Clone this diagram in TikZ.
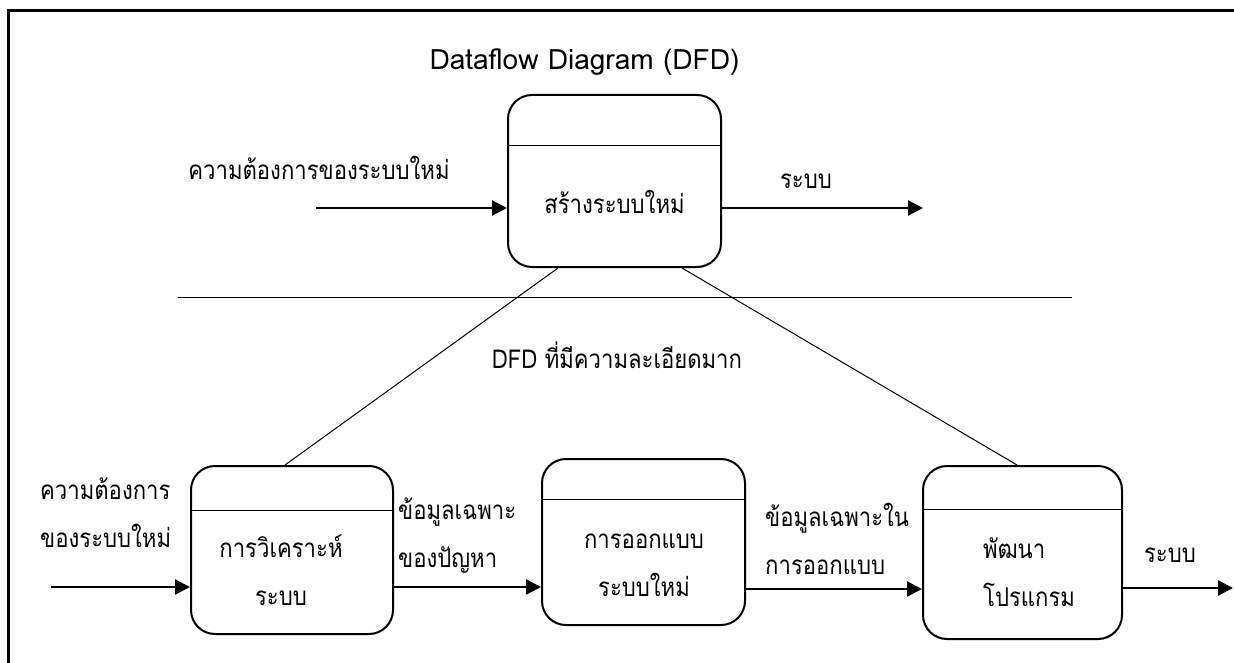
\documentclass[tikz,border=0pt]{standalone}
\usepackage{fontspec}
\newfontfamily\thaifont[Script=Thai,FakeStretch=0.85]{Loma}
\newfontfamily\latinfont{Loma}
\usetikzlibrary{arrows.meta,calc}
\begin{document}
\begin{tikzpicture}[x=1pt,y=-1pt,
  proc/.style={draw,line width=2pt,rounded corners=24pt,inner sep=0pt},
  divider/.style={line width=1pt},
  flow/.style={line width=2.2pt,-{Triangle[length=15pt,width=15pt]}},
  thin/.style={line width=1pt},
  txt/.style={font=\thaifont\fontsize{26}{48}\selectfont,inner sep=0pt},
]
\useasboundingbox (0,0) rectangle (1234,663);
\begin{scope}
\clip (0,0) rectangle (1234,663);
\draw[line width=2.5pt] (8.5,700) -- (8.5,10.5) -- (1260,10.5);
\end{scope}

% title
\node[font=\latinfont\fontsize{28}{34}\selectfont,inner sep=0pt] (title) at (584.5,62) {Dataflow Diagram (DFD)};

% context-level process
\node[proc,minimum width=213pt,minimum height=172pt] (T) at (614.5,181) {};
\draw[divider] ($(T.north west)+(0,52)$) -- ($(T.north east)+(0,52)$);
\node[txt] (Ttext) at (614.5,202) {สร้างระบบใหม่};

\coordinate (tin) at (316,208);
\coordinate (tout) at (923,208);
\draw[flow] (tin) -- (tin -| T.west);
\draw[flow] (tout -| T.east) -- (tout);
\node[txt] (lin) at (319,168) {ความต้องการของระบบใหม่};
\node[txt] (lout) at (806,181) {ระบบ};

% separator
\coordinate (h1) at (178,297);
\coordinate (h2) at (1072,297);
\draw[thin] (h1) -- (h2);
\node[txt] (detail) at (617,355) {DFD ที่มีความละเอียดมาก};

% detailed processes
\node[proc,minimum width=202pt,minimum height=168pt] (B1) at (292,550) {};
\draw[divider] ($(B1.north west)+(0,45)$) -- ($(B1.north east)+(0,45)$);
\node[txt,align=center] (B1text) at (281,570) {การวิเคราะห์\\ระบบ};

\node[proc,minimum width=203pt,minimum height=166pt] (B2) at (643.5,542) {};
\draw[divider] ($(B2.north west)+(0,41)$) -- ($(B2.north east)+(0,41)$);
\node[txt,align=center] (B2text) at (644,565) {การออกแบบ\\ระบบใหม่};

\node[proc,minimum width=199pt,minimum height=173pt] (B3) at (1022.5,552.5) {};
\draw[divider] ($(B3.north west)+(0,44)$) -- ($(B3.north east)+(0,44)$);
\node[txt,align=left,anchor=west] (B3text) at (983,572) {พัฒนา\\โปรแกรม};

% links between levels
\draw[thin] ($(T.south)+(-56.5,0)$) -- ($(B1.north)+(-7,0)$);
\draw[thin] ($(T.south)+(67.5,0)$) -- ($(B3.north)+(-5.5,0)$);

% detailed flows
\coordinate (bin) at (51,587);
\coordinate (f12) at (0,587);
\coordinate (f23) at (0,589);
\coordinate (bout) at (1233,588);
\draw[flow] (bin) -- (bin -| B1.west);
\draw[flow] (f12 -| B1.east) -- (f12 -| B2.west);
\draw[flow] (f23 -| B2.east) -- (f23 -| B3.west);
\draw[flow] (bout -| B3.east) -- (bout);

\node[txt,align=left,anchor=west] (l1) at (40,513) {ความต้องการ\\ของระบบใหม่};
\node[txt,align=left,anchor=west] (l2) at (398,536) {ข้อมูลเฉพาะ\\ของปัญหา};
\node[txt,align=left,anchor=west] (l3) at (765,539) {ข้อมูลเฉพาะใน\\การออกแบบ};
\node[txt] (l4) at (1170,555) {ระบบ};
\end{tikzpicture}
\end{document}
